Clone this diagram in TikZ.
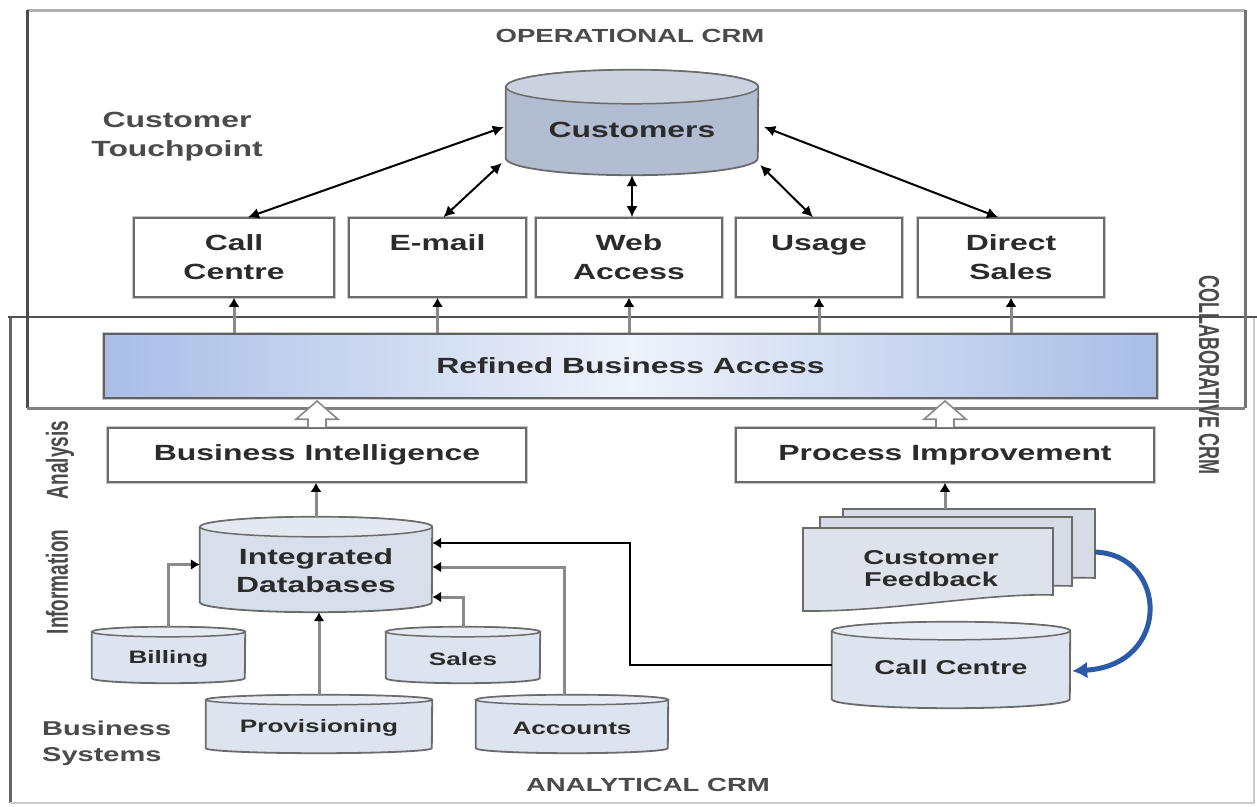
\documentclass[tikz,border=0pt]{standalone}
\usepackage{fontspec}
\setmainfont{Liberation Sans}[FakeStretch=1.45]
\newfontfamily\rotfont{Liberation Sans}
\usepackage{graphicx}
\usetikzlibrary{arrows.meta,calc}

\definecolor{txt}{HTML}{2B2B2B}
\definecolor{boxline}{HTML}{6B6B6B}
\definecolor{boxhalo}{HTML}{C8C8C8}
\definecolor{custfill}{HTML}{B3BDD1}
\definecolor{idfill}{HTML}{D8DFEB}
\definecolor{dbfill}{HTML}{DDE4F0}
\definecolor{docfill}{HTML}{D6DBE6}
\definecolor{barL}{HTML}{A9BDE6}
\definecolor{barM}{HTML}{EEF2FA}
\definecolor{flowblue}{HTML}{2B5AA8}
\definecolor{shaft}{HTML}{8A8A8A}

\tikzset{
  lbl/.style={font=\bfseries\fontsize{22}{29}\selectfont, text=txt, align=center, inner sep=0pt},
  tbox/.style={draw=boxline, line width=1.6pt, fill=white, preaction={draw=boxhalo, line width=4.5pt},
    minimum height=79pt, inner sep=0pt, lbl},
  wbox/.style={draw=boxline, line width=1.6pt, fill=white, preaction={draw=boxhalo, line width=4.5pt},
    minimum height=54pt, minimum width=418pt, inner sep=0pt, lbl},
  cylbody/.style={draw=boxline, line width=1.8pt},
  cyltop/.style={draw=boxline, line width=1.5pt},
  cylfont/.style={font=\bfseries\fontsize{18}{22}\selectfont},
  cyltext/.style={cylfont, text=txt, align=center, inner sep=0pt},
  twohead/.style={black, line width=2pt, {Latex[length=11pt,width=11pt]}-{Latex[length=11pt,width=11pt]}},
  uparr/.style={shaft, line width=3pt, -{Latex[length=9pt,width=11pt,color=black]}},
  feed/.style={shaft, line width=3pt, -{Latex[length=9pt,width=11pt,color=black]}},
  hollow/.style={draw=boxline!80, line width=1.6pt, fill=white},
  doc/.style={draw=boxline, line width=1.6pt, fill=docfill},
  frametxt/.style={font=\bfseries\fontsize{19}{22}\selectfont, text=txt!85, inner sep=0pt},
  rottxt/.style={text=txt!85, inner sep=0pt},
}

% name, cx, cy, w, h, ry, text dy, fill, text
\newcommand\dbcyl[9]{%
  \pgfmathsetmacro\cylhw{#4/2}%
  \node[inner sep=0pt, minimum width=#4pt, minimum height=#5pt] (#1) at (#2,#3) {};
  \path[cylbody, fill=#8] ([yshift=-#6pt]#1.north west) -- ([yshift=#6pt]#1.south west)
     arc[start angle=180, end angle=360, x radius=\cylhw pt, y radius=#6pt]
     -- ([yshift=-#6pt]#1.north east)
     arc[start angle=0, end angle=180, x radius=\cylhw pt, y radius=#6pt] -- cycle;
  \path[cyltop, fill=#8!70!white] ([yshift=-#6pt]#1.north) ellipse[x radius=\cylhw pt, y radius=#6pt];
  \node[cyltext] (#1-t) at ([yshift=-#7pt]#1.center) {#9};
}

\begin{document}
\begin{tikzpicture}[x=1pt, y=-1pt]
\useasboundingbox (0,0) rectangle (1257,806);
\fill[white] (0,0) rectangle (1257,806);

% ---------- frames ----------
\draw[color=black!60, line width=3pt] (10,317) -- (10,803);
\draw[color=black!20, line width=2pt] (10,803) -- (1254,803) -- (1254,317);
\draw[color=black!68, line width=2.5pt] (8,317) -- (1257,317);
\draw[color=black!30, line width=3pt] (27,10) -- (1245,10);
\draw[color=black!70, line width=3pt] (27,10) -- (27,408);
\draw[color=black!55, line width=3pt] (1245,10) -- (1245,408);
\draw[color=black!50, line width=3pt] (27,408) -- (1245,408);

\node[frametxt] (opcrm) at (630,36) {OPERATIONAL CRM};
\node[frametxt] (ancrm) at (648,785) {ANALYTICAL CRM};
\node[rottxt, rotate=-90] (collab) at (1209,375)
  {\scalebox{1}[1.6]{\rotfont\bfseries\fontsize{18}{20}\selectfont COLLABORATIVE CRM}};
\node[rottxt, rotate=90] (analysis) at (60,460)
  {\scalebox{1}[1.6]{\rotfont\bfseries\fontsize{19}{20}\selectfont Analysis}};
\node[rottxt, rotate=90] (information) at (57,582)
  {\scalebox{1}[1.6]{\rotfont\bfseries\fontsize{19}{20}\selectfont Information}};

\node[lbl, text=txt!85] (touch) at (177,137) {Customer\\Touchpoint};
\node[lbl, text=txt!85, align=left, anchor=west, font=\bfseries\fontsize{20}{26}\selectfont] (bsys) at (42,743) {Business\\Systems};

% ---------- customers ----------
\tikzset{cylfont/.style={font=\bfseries\fontsize{22}{26}\selectfont}}
\dbcyl{cust}{632}{122.5}{252}{105}{17}{7.5}{custfill}{Customers}

% ---------- touchpoint boxes ----------
\node[tbox, minimum width=200pt] (callc) at (234,257.5) {Call\\Centre};
\node[tbox, minimum width=177pt] (email) at (437.5,257.5) {E-mail\\\phantom{X}};
\node[tbox, minimum width=186pt] (web) at (629,257.5) {Web\\Access};
\node[tbox, minimum width=166pt] (usage) at (819,257.5) {Usage\\\phantom{X}};
\node[tbox, minimum width=186pt] (direct) at (1011,257.5) {Direct\\Sales};

\draw[twohead] ([xshift=-2pt,yshift=-4.5pt]cust.west) -- ([xshift=14pt]callc.north);
\draw[twohead] ([xshift=-4pt,yshift=-40.5pt]cust.west) -- ([xshift=6pt]email.north);
\draw[twohead] (cust.south) -- (cust.south |- web.north);
\draw[twohead] ([xshift=2pt,yshift=-42.5pt]cust.east) -- ([xshift=-6pt]usage.north);
\draw[twohead] ([xshift=6pt,yshift=-4.5pt]cust.east) -- ([xshift=-13pt]direct.north);

% ---------- refined business access ----------
\node[draw=black!62, line width=2pt, preaction={draw=boxhalo, line width=4.5pt},
      left color=barL, right color=barL, middle color=barM,
      minimum width=1053pt, minimum height=64pt, inner sep=0pt, lbl] (bar) at (630.5,366) {Refined Business Access};

\foreach \b in {callc,email,web,usage,direct}
  \draw[uparr] (\b.south |- bar.north) -- (\b.south);

% ---------- BI / PI ----------
\node[wbox] (bi) at (317,455) {Business Intelligence};
\node[wbox] (pi) at (945,455) {Process Improvement};

\foreach \n in {bi,pi}
  \draw[hollow] ([xshift=-9pt]\n.north) -- ([xshift=-9pt,yshift=8pt]\n.north)
     -- ([xshift=-21pt,yshift=8pt]\n.north) -- ([yshift=-2pt]\n.north |- bar.south)
     -- ([xshift=21pt,yshift=8pt]\n.north) -- ([xshift=9pt,yshift=8pt]\n.north)
     -- ([xshift=9pt]\n.north);

% ---------- databases ----------
\tikzset{cylfont/.style={font=\bfseries\fontsize{22}{28}\selectfont}}
\dbcyl{idb}{316}{564.5}{232}{95}{10}{6.5}{idfill}{Integrated\\Databases}
\tikzset{cylfont/.style={font=\bfseries\fontsize{18}{22}\selectfont}}
\dbcyl{billing}{168.5}{655}{153}{56}{5}{4}{dbfill}{Billing}
\dbcyl{sales}{463}{655}{154}{56}{5}{4}{dbfill}{Sales}
\dbcyl{prov}{319}{724}{226}{58}{5}{4}{dbfill}{Provisioning}
\dbcyl{acc}{572}{724}{192}{58}{5}{4}{dbfill}{Accounts}
\tikzset{cylfont/.style={font=\bfseries\fontsize{20}{24}\selectfont}}
\dbcyl{cc2}{951}{665}{238}{86}{9}{2}{dbfill}{Call Centre}

\draw[feed] (idb.north) -- (idb.north |- bi.south);
\draw[feed] (billing.north) |- (idb.west);
\draw[feed] (prov.north) -- (prov.north |- idb.south);
\draw[feed] (sales.north) |- ([yshift=-32.5pt]idb.east);
\draw[feed] ([xshift=-8pt]acc.north) |- ([yshift=-2.5pt]idb.east);
\coordinate (ccbend) at (630,665);
\draw[black, line width=2.5pt, -{Latex[length=9pt,width=11pt]}] (cc2.west) -- (ccbend) |- ([yshift=21.5pt]idb.east);

% ---------- customer feedback documents ----------
\path[doc] (843,509) -- (1095,509) -- (1095,578) .. controls (1040,576) and (960,586) .. (843,590) -- cycle;
\path[doc] (820,517) -- (1072,517) -- (1072,586) .. controls (1010,584) and (930,596) .. (820,600) -- cycle;
\path[doc, fill=docfill!80!white] (803,528) -- (1053,528) -- (1053,595) .. controls (985,593) and (890,612) .. (803,611) -- cycle;
\node[inner sep=0pt, minimum width=252pt, minimum height=69pt] (fbback) at (969,543.5) {};
\node[lbl, font=\bfseries\fontsize{20}{22}\selectfont] (fb) at (931,569) {Customer\\Feedback};

\draw[feed] (pi.south |- fbback.north) -- (pi.south);

\draw[flowblue, line width=5pt, -{Latex[length=15pt,width=17pt]}]
  ([yshift=-8.5pt]fbback.east) .. controls (1168,555) and (1172,665) .. ([xshift=2pt,yshift=-6pt]cc2.east);

\end{tikzpicture}
\end{document}
